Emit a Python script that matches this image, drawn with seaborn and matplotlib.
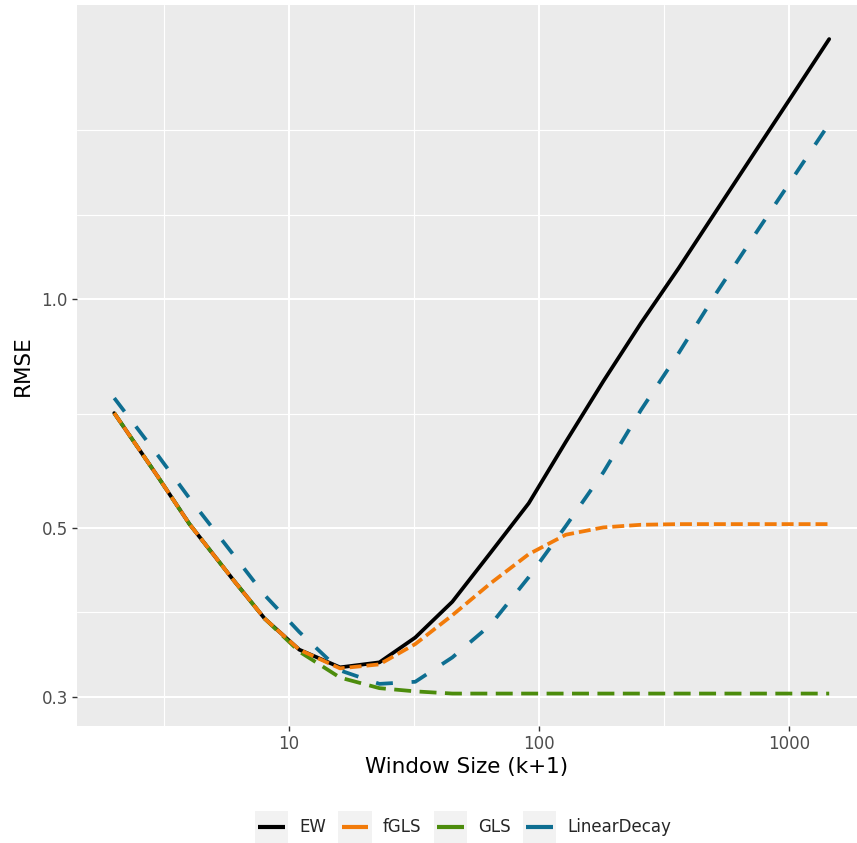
import numpy as np
import pandas as pd
import matplotlib
matplotlib.use("Agg")
import matplotlib.pyplot as plt
import seaborn as sns
from matplotlib.lines import Line2D
from matplotlib.patches import Rectangle
from matplotlib.ticker import FixedLocator, NullFormatter
from matplotlib.legend_handler import HandlerBase

# values
window = [2, 3, 4, 6, 8, 11, 16, 23, 32, 45, 64, 91, 128, 181, 256, 362, 512, 724, 1024, 1448]
ew = [0.708, 0.583, 0.506, 0.427, 0.380, 0.346, 0.328, 0.333, 0.359, 0.400,
      0.464, 0.539, 0.649, 0.780, 0.930, 1.098, 1.306, 1.553, 1.846, 2.196]
fgls = [0.708, 0.583, 0.506, 0.427, 0.380, 0.346, 0.327, 0.331, 0.352, 0.384,
        0.423, 0.462, 0.490, 0.501, 0.505, 0.506, 0.506, 0.506, 0.506, 0.506]
gls = [0.708, 0.583, 0.506, 0.427, 0.380, 0.344, 0.318, 0.308, 0.305, 0.303,
       0.303, 0.303, 0.303, 0.303, 0.303, 0.303, 0.303, 0.303, 0.303, 0.303]
linear_decay = [0.741, 0.622, 0.547, 0.461, 0.408, 0.365, 0.325, 0.312, 0.314, 0.338,
                0.373, 0.431, 0.503, 0.592, 0.715, 0.849, 1.018, 1.210, 1.434, 1.700]

methods = ["EW", "fGLS", "GLS", "LinearDecay"]
colors = ["#000000", "#F27B0A", "#4C8C0C", "#0E6E91"]
x_breaks = [10, 100, 1000]
x_labels = ["10", "100", "1000"]
y_breaks = [0.3, 0.5, 1.0]
y_labels = ["0.3", "0.5", "1.0"]

df = pd.DataFrame({
    "window": window * 4,
    "rmse": ew + fgls + gls + linear_decay,
    "method": np.repeat(methods, len(window)),
})

sns.set_theme(style="darkgrid", rc={
    "axes.facecolor": "#EBEBEB",
    "figure.facecolor": "white",
    "grid.color": "white",
})
plt.rcParams["font.family"] = ["DejaVu Sans"]
plt.rcParams["lines.scale_dashes"] = False


class KeyHandler(HandlerBase):
    # ggplot-like legend key: grey box with a centred line
    def create_artists(self, legend, orig_handle, xdescent, ydescent,
                       width, height, fontsize, trans):
        box = Rectangle((-xdescent, -ydescent), width, height,
                        facecolor="#F2F2F2", edgecolor="none", transform=trans)
        yc = -ydescent + height / 2
        x0 = -xdescent + 0.1 * width
        x1 = -xdescent + 0.9 * width
        line = Line2D([x0, x1], [yc, yc], color=orig_handle.get_color(),
                      linewidth=3.0, solid_capstyle="butt", transform=trans)
        return [box, line]


fig = plt.figure(figsize=(8.57, 8.43), dpi=100)
ax = fig.add_axes([77 / 857, 1 - 726 / 843, 780 / 857, 721 / 843])

palette = dict(zip(methods, colors))
dashes = {"EW": "", "fGLS": (8.6, 3.6), "GLS": (12.2, 6.1), "LinearDecay": (12.2, 13.5)}
sns.lineplot(data=df, x="window", y="rmse", hue="method", style="method",
             hue_order=["EW", "GLS", "fGLS", "LinearDecay"],
             palette=palette, dashes=dashes, linewidth=2.7, legend=False, ax=ax)

ax.set_xscale("log")
ax.set_yscale("log")
ax.set_xlim(10 ** 0.152, 10 ** 3.272)
ax.set_ylim(10 ** -0.5612, 10 ** 0.3864)

# ggplot-style minor breaks: midpoints between majors (log space), extended by first step
lx = np.log10(x_breaks)
x_minor = 10 ** ((lx[:-1] + lx[1:]) / 2)
x_minor = np.concatenate([[10 ** (lx[0] - (lx[1] - lx[0]) / 2)], x_minor])
ly = np.log10(y_breaks)
step = ly[1] - ly[0]
y_minor = 10 ** ((ly[:-1] + ly[1:]) / 2)
y_minor = np.concatenate([y_minor, [10 ** (ly[-1] + step / 2), 10 ** (ly[-1] + step)]])

ax.xaxis.set_major_locator(FixedLocator(x_breaks))
ax.set_xticklabels(x_labels)
ax.xaxis.set_minor_locator(FixedLocator(x_minor))
ax.xaxis.set_minor_formatter(NullFormatter())
ax.yaxis.set_major_locator(FixedLocator(y_breaks))
ax.set_yticklabels(y_labels)
ax.yaxis.set_minor_locator(FixedLocator(y_minor))
ax.yaxis.set_minor_formatter(NullFormatter())

ax.grid(True, which="major", color="white", linewidth=1.5)
ax.grid(True, which="minor", color="white", linewidth=0.8)
for s in ax.spines.values():
    s.set_visible(False)
ax.tick_params(which="major", bottom=True, left=True, length=3.6, width=1.0,
               color="#333333", labelcolor="#4D4D4D", labelsize=12, pad=3)
ax.tick_params(which="minor", length=0)

ax.set_xlabel("Window Size (k+1)", fontsize=15.5, color="black", labelpad=3)
ax.set_ylabel("RMSE", fontsize=15.5, color="black", labelpad=6)

handles = [Line2D([], [], color=c) for c in colors]
fig.legend(handles, methods, loc="center", bbox_to_anchor=(463 / 857, 1 - 827 / 843),
           ncol=4, frameon=False, fontsize=12, handlelength=2.0, handleheight=2.57,
           handletextpad=0.67, columnspacing=0.73, borderpad=0,
           handler_map={Line2D: KeyHandler()})

fig.savefig("out.png", dpi=100)
